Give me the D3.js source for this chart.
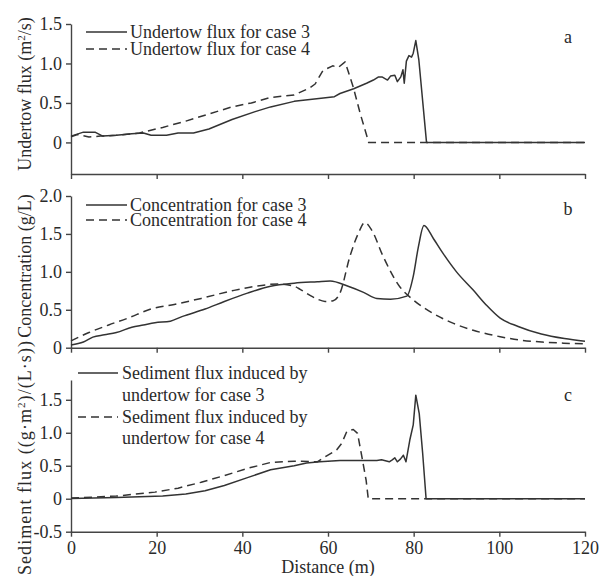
<!DOCTYPE html>
<html>
<head>
<meta charset="utf-8">
<script src="https://cdn.jsdelivr.net/npm/d3@7"></script>
<style>
  html, body { margin: 0; padding: 0; background: #fff; }
  svg { display: block; }
  text { font-family: "Liberation Serif", "Times New Roman", serif; fill: #2a2a2a; }
</style>
</head>
<body>
<svg id="chart" width="606" height="576"></svg>
<script>
// Distance ticks shared by all three panels
const distanceTicks = [0, 20, 40, 60, 80, 100, 120];

// (a) undertow flux, m^2/s
const undertowDist3 = [0, 2.9, 5.6, 7.4, 10.6, 14.2, 16.9, 18.7, 22.3, 25, 28.6, 32.2, 37.6, 43, 46.6, 52.1, 58.4, 61.5, 62.8, 66, 69, 70.6, 71.8, 72.6, 73.9, 74.6, 75.6, 76.2, 77, 77.5, 77.8, 78.3, 78.9, 79.5, 79.9, 80.5, 81.2, 83, 120];
const undertowFlux3 = [0.08, 0.13, 0.13, 0.08, 0.09, 0.11, 0.12, 0.09, 0.09, 0.12, 0.12, 0.17, 0.29, 0.39, 0.45, 0.52, 0.56, 0.58, 0.62, 0.68, 0.75, 0.79, 0.83, 0.83, 0.79, 0.84, 0.85, 0.77, 0.83, 0.92, 0.75, 1.03, 1.10, 1.08, 1.13, 1.29, 1.05, 0, 0];
const undertowDist4 = [0, 1.5, 4.2, 6.9, 10.6, 16, 21.4, 26.8, 32.2, 37.6, 42.1, 46.6, 52.1, 55.7, 57, 58.8, 61.1, 62.4, 64, 65.9, 67.5, 69.5, 120];
const undertowFlux4 = [0.07, 0.10, 0.07, 0.08, 0.09, 0.12, 0.19, 0.27, 0.36, 0.45, 0.50, 0.57, 0.60, 0.69, 0.74, 0.91, 0.97, 0.95, 1.02, 0.70, 0.37, 0, 0];

// (b) suspended sediment concentration, g/L
const concDist3 = [0, 2.9, 5.1, 7.8, 10.6, 14.2, 16.9, 19.6, 23.2, 25.9, 31.3, 35.8, 41.2, 46.6, 52.1, 57.5, 60.5, 64.7, 68.3, 71.4, 74.6, 78.4, 79.9, 81.1, 82.4, 84.6, 86.9, 90, 93.9, 97, 100.2, 104.4, 109.8, 115.2, 120];
const conc3 = [0.035, 0.075, 0.14, 0.17, 0.20, 0.27, 0.30, 0.33, 0.35, 0.41, 0.51, 0.61, 0.72, 0.81, 0.85, 0.87, 0.88, 0.81, 0.73, 0.65, 0.64, 0.68, 0.94, 1.33, 1.61, 1.44, 1.24, 1.00, 0.76, 0.56, 0.39, 0.28, 0.18, 0.12, 0.085];
const concDist4 = [0, 4.2, 8.8, 13.3, 18.7, 24.1, 30.4, 37.6, 43, 48.5, 52.1, 53.5, 55.5, 57.5, 59.3, 61.2, 62.8, 65.1, 67.1, 68.6, 70.2, 72.9, 76.8, 79.9, 84.6, 89.3, 93.9, 100.2, 105, 110, 115, 120];
const conc4 = [0.09, 0.20, 0.30, 0.39, 0.51, 0.57, 0.65, 0.75, 0.81, 0.84, 0.81, 0.77, 0.70, 0.64, 0.61, 0.62, 0.72, 1.20, 1.51, 1.65, 1.55, 1.20, 0.80, 0.63, 0.45, 0.32, 0.23, 0.145, 0.10, 0.075, 0.06, 0.05];

// (c) sediment flux induced by undertow, (g·m^2)/(L·s)
const sedDist3 = [0, 10.6, 21.4, 26.8, 31.3, 35.8, 41.2, 46.6, 52.1, 55, 58.1, 62.8, 71.4, 72.5, 74.3, 75, 75.6, 76.2, 76.9, 77.6, 78.2, 79.1, 79.9, 80.5, 81.3, 82.1, 82.9, 120];
const sedFlux3 = [0.005, 0.02, 0.04, 0.07, 0.12, 0.20, 0.32, 0.44, 0.50, 0.54, 0.56, 0.58, 0.58, 0.59, 0.56, 0.59, 0.62, 0.56, 0.60, 0.66, 0.56, 0.89, 1.12, 1.57, 1.29, 0.69, 0, 0];
const sedDist4 = [0, 10.6, 19.6, 25, 30.4, 35.8, 41.2, 46.6, 52.1, 57.5, 59.7, 62, 63.2, 64.4, 65.9, 66.9, 67.9, 68.9, 69.4, 120];
const sedFlux4 = [0.01, 0.04, 0.10, 0.16, 0.25, 0.35, 0.46, 0.55, 0.57, 0.56, 0.65, 0.74, 0.84, 1.02, 1.05, 0.99, 0.64, 0.28, 0, 0];

const svg = d3.select("#chart");
const FONT = 18;
const INK = "#333";

const x = d3.scaleLinear().domain([0, 120]).range([71, 585]);

const panels = [
  {
    yDomain: [-0.4, 1.5], yRange: [174, 24],
    yTicks: [0, 0.5, 1, 1.5],
    title: ["Undertow flux (m", "2", "/s)"], titleY: 94, titleLen: null,
    tag: "a", tagY: 43,
    curve: d3.curveLinear,
    series: [
      { d: undertowDist4, v: undertowFlux4, dash: true },
      { d: undertowDist3, v: undertowFlux3, dash: false }
    ],
    legend: {
      lineX: [86, 127], textX: 130,
      items: [
        { dash: false, lineY: 32, lines: ["Undertow flux for case 3"], baseY: [38] },
        { dash: true, lineY: 49, lines: ["Undertow flux for case 4"], baseY: [55] }
      ]
    }
  },
  {
    yDomain: [0, 2], yRange: [347.7, 196],
    yTicks: [0, 0.5, 1, 1.5, 2],
    title: ["Concentration (g/L)"], titleY: 266, titleLen: null,
    tag: "b", tagY: 215,
    curve: d3.curveMonotoneX,
    series: [
      { d: concDist4, v: conc4, dash: true },
      { d: concDist3, v: conc3, dash: false }
    ],
    legend: {
      lineX: [86, 127], textX: 130,
      items: [
        { dash: false, lineY: 205, lines: ["Concentration for case 3"], baseY: [211] },
        { dash: true, lineY: 220, lines: ["Concentration for case 4"], baseY: [226] }
      ]
    }
  },
  {
    yDomain: [-0.5, 1.8], yRange: [531.7, 380],
    yTicks: [-0.5, 0, 0.5, 1, 1.5],
    title: ["Sediment flux ((g\u00B7m", "2", ")/(L\u00B7s))"], titleY: 458, titleLen: 234,
    tag: "c", tagY: 401,
    curve: d3.curveLinear,
    series: [
      { d: sedDist4, v: sedFlux4, dash: true },
      { d: sedDist3, v: sedFlux3, dash: false }
    ],
    legend: {
      lineX: [78, 118], textX: 122,
      items: [
        { dash: false, lineY: 373, lines: ["Sediment flux induced by", "undertow for case 3"], baseY: [379, 401] },
        { dash: true, lineY: 417, lines: ["Sediment flux induced by", "undertow for case 4"], baseY: [423, 444] }
      ]
    }
  }
];

// tick labels: plain "0", one decimal otherwise, ASCII hyphen for negatives
const fmtY = v => (v === 0 ? "0" : v.toFixed(1));

panels.forEach((p, i) => {
  const y = d3.scaleLinear().domain(p.yDomain).range(p.yRange);
  const g = svg.append("g");

  // left axis
  const yAxis = g.append("g")
    .attr("transform", `translate(${x.range()[0]},0)`)
    .call(d3.axisLeft(y).tickValues(p.yTicks).tickFormat(fmtY).tickSize(5).tickSizeOuter(0).tickPadding(4));
  // bottom axis (labels only on the last panel)
  const xAxis = g.append("g")
    .attr("transform", `translate(0,${p.yRange[0]})`)
    .call(d3.axisBottom(x).tickValues(distanceTicks).tickSize(5).tickSizeOuter(0).tickPadding(5)
      .tickFormat(i === panels.length - 1 ? d3.format("d") : () => ""));

  [yAxis, xAxis].forEach(ax => {
    ax.select(".domain").attr("stroke", "#444").attr("stroke-width", 1.4);
    ax.selectAll(".tick line").attr("stroke", "#444").attr("stroke-width", 1.4);
    ax.selectAll(".tick text").attr("font-size", FONT).attr("fill", "#2a2a2a")
      .attr("font-family", "Liberation Serif, Times New Roman, serif");
  });

  // series
  p.series.forEach(s => {
    const pts = s.d.map((d, k) => [d, s.v[k]]);
    g.append("path")
      .datum(pts)
      .attr("fill", "none")
      .attr("stroke", INK)
      .attr("stroke-width", 1.5)
      .attr("stroke-linejoin", "round")
      .attr("stroke-dasharray", s.dash ? "8,5" : null)
      .attr("d", d3.line().curve(p.curve).x(d => x(d[0])).y(d => y(d[1])));
  });

  // legend
  p.legend.items.forEach(it => {
    g.append("line")
      .attr("x1", p.legend.lineX[0]).attr("x2", p.legend.lineX[1])
      .attr("y1", it.lineY).attr("y2", it.lineY)
      .attr("stroke", INK).attr("stroke-width", 1.5)
      .attr("stroke-dasharray", it.dash ? "8,5" : null);
    it.lines.forEach((t, k) => {
      g.append("text")
        .attr("x", p.legend.textX).attr("y", it.baseY[k])
        .attr("font-size", FONT)
        .text(t);
    });
  });

  // panel tag
  g.append("text")
    .attr("x", 568).attr("y", p.tagY)
    .attr("text-anchor", "middle")
    .attr("font-size", FONT)
    .text(p.tag);

  // axis title (rotated)
  const t = g.append("text")
    .attr("transform", `translate(31,${p.titleY}) rotate(-90)`)
    .attr("text-anchor", "middle")
    .attr("font-size", FONT);
  if (p.titleLen) t.attr("textLength", p.titleLen).attr("lengthAdjust", "spacing");
  p.title.forEach((part, k) => {
    const ts = t.append("tspan").text(part);
    if (k === 1) ts.attr("font-size", FONT * 0.62).attr("baseline-shift", "super");
  });
});

// x-axis title
svg.append("text")
  .attr("x", 328).attr("y", 573)
  .attr("text-anchor", "middle")
  .attr("font-size", FONT)
  .text("Distance (m)");
</script>
</body>
</html>
